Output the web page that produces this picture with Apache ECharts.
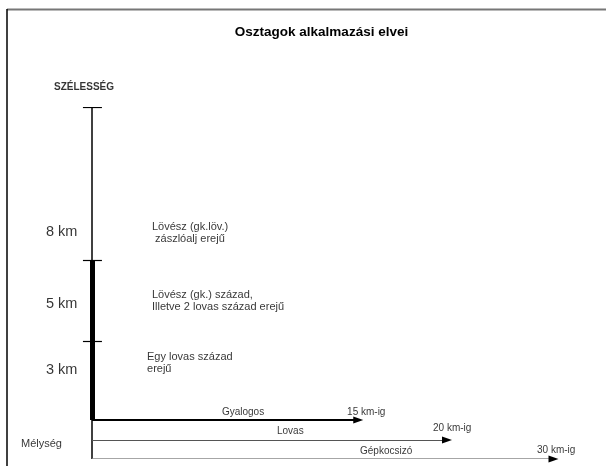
<!DOCTYPE html>
<html>
<head>
<meta charset="utf-8">
<script src="https://cdn.jsdelivr.net/npm/echarts@6/dist/echarts.min.js"></script>
<style>html,body{margin:0;padding:0;background:#fff}#c{width:606px;height:466px}</style>
</head>
<body>
<div id="c"></div>
<script>
// ---- data ----
var titleText = 'Osztagok alkalmazási elvei';
var widthAxisName = 'SZÉLESSÉG';
var depthAxisName = 'Mélység';
var widthLabels = ['8 km', '5 km', '3 km'];
var widthTicks = [12, 6.13, 3];          // tick levels on the width (vertical) axis
var thickSpan = [0, 6.13];                // thick part of the width axis
var unitTexts = [
  'Lövész (gk.löv.)\n zászlóalj erejű',
  'Lövész (gk.) század,\nIlletve 2 lovas század erejű',
  'Egy lovas század\nerejű'
];
var depthCategories = ['Gyalogos', 'Lovas', 'Gépkocsizó'];
var depthRangeLabels = ['15 km-ig', '20 km-ig', '30 km-ig'];
var depthEnds = [15, 20, 26];             // arrow ends as drawn (km axis)
var laneY = [0, -0.77, -1.5];
var axisTop = 12;
var axisBottom = -1.5;

// ---- layout anchors (data units) ----
var widthLabelPos = [[-2.59, 7.21], [-2.59, 4.45], [-2.59, 1.92]];
var unitTextPos = [[3.38, 7.17], [3.38, 4.55], [3.10, 2.19]];
var catLabelPos = [[7.32, 0.31], [10.42, -0.42], [15.1, -1.19]];
var rangeLabelPos = [[14.37, 0.31], [19.21, -0.31], [25.07, -1.15]];
var axisNamePos = [-2.14, 12.77];
var depthNamePos = [-4.0, -0.92];

var FONT = "'Liberation Sans', Arial, sans-serif";
var chart = echarts.init(document.getElementById('c'), null, {renderer: 'canvas'});

function textSeries(points, texts, size, weight, lh) {
  return {
    type: 'scatter', symbolSize: 0, clip: false, silent: true, z: 5,
    data: points.map(function (p, i) { return {value: p, name: texts[i]}; }),
    label: {
      show: true, position: 'inside', align: 'left', verticalAlign: 'middle',
      formatter: function (pr) { return pr.name; },
      color: '#000', fontSize: size, fontWeight: weight || 'normal',
      fontFamily: FONT, lineHeight: lh || size * 1.15
    }
  };
}

var lineData = [];
lineData.push({coords: [[0, axisBottom], [0, axisTop]], lineStyle: {width: 1.5, color: '#000', opacity: 1}});
lineData.push({coords: [[0, thickSpan[0]], [0, thickSpan[1]]], lineStyle: {width: 5, color: '#000', opacity: 1}});
widthTicks.forEach(function (t) {
  lineData.push({coords: [[-0.51, t], [0.56, t]], lineStyle: {width: 1.2, color: '#000', opacity: 1}});
});
var laneColors = ['#000', '#555', '#888'];
var laneWidths = [1.8, 1.2, 1.5];
depthEnds.forEach(function (e, i) {
  lineData.push({coords: [[0, laneY[i]], [e, laneY[i]]], lineStyle: {width: laneWidths[i], color: laneColors[i], opacity: 1}});
});

var option = {
  backgroundColor: '#fff',
  animation: false,
  grid: {left: 3.25, right: 17, top: 107, bottom: 7, containLabel: false},
  xAxis: {type: 'value', min: -5, max: 28, show: false},
  yAxis: {type: 'value', min: axisBottom, max: axisTop, show: false},
  graphic: [
    {type: 'line', shape: {x1: 7, y1: 9.5, x2: 606, y2: 9.5}, style: {stroke: '#777', lineWidth: 2}},
    {type: 'line', shape: {x1: 7, y1: 9, x2: 7, y2: 466}, style: {stroke: '#000', lineWidth: 1.5}},
    {type: 'text', x: 321.5, y: 32, style: {text: titleText, font: 'bold 13.5px ' + FONT, fill: '#000', align: 'center', verticalAlign: 'middle'}}
  ],
  series: [
    {
      type: 'lines', coordinateSystem: 'cartesian2d', polyline: false, silent: true,
      symbol: ['none', 'none'], data: lineData, z: 2,
      lineStyle: {opacity: 1, color: '#000'}
    },
    {
      type: 'scatter', symbol: 'triangle', symbolSize: [7, 10], symbolRotate: -90, clip: false, silent: true,
      itemStyle: {color: '#000', opacity: 1}, z: 3,
      data: depthEnds.map(function (e, i) { return [e, laneY[i]]; })
    },
    textSeries(widthLabelPos, widthLabels, 14.5),
    textSeries(unitTextPos, unitTexts, 11, 'normal', 12),
    textSeries(catLabelPos, depthCategories, 10),
    textSeries(rangeLabelPos, depthRangeLabels, 10),
    textSeries([axisNamePos], [widthAxisName], 10, 'bold'),
    textSeries([depthNamePos], [depthAxisName], 11)
  ]
};
chart.setOption(option);
</script>
</body>
</html>
